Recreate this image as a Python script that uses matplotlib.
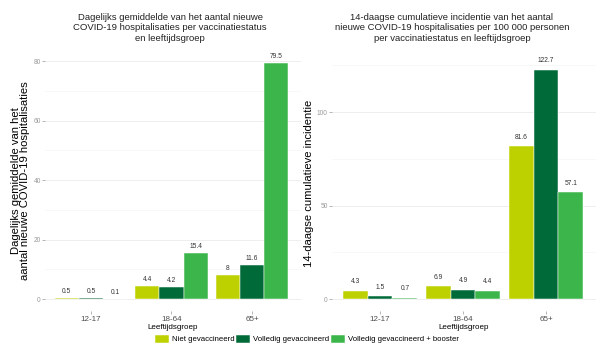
import matplotlib
matplotlib.use('Agg')
import matplotlib.pyplot as plt
import numpy as np

plt.rcParams['font.family'] = ['Liberation Sans', 'DejaVu Sans']

groups = ['12-17', '18-64', '65+']
series = ['Niet gevaccineerd', 'Volledig gevaccineerd', 'Volledig gevaccineerd + booster']
colors = ['#bdd000', '#006b38', '#3cb54a']

# daily average hospitalisations
daily_niet = [0.5, 4.4, 8]
daily_volledig = [0.5, 4.2, 11.6]
daily_booster = [0.1, 15.4, 79.5]

# 14-day cumulative incidence per 100 000
inc_niet = [4.3, 6.9, 81.6]
inc_volledig = [1.5, 4.9, 122.7]
inc_booster = [0.7, 4.4, 57.1]

fig = plt.figure(figsize=(6.02, 3.48), dpi=100)
ax1 = fig.add_axes([45/602, 1-311/348, 256/602, 260/348])
ax2 = fig.add_axes([332/602, 1-311/348, 264/602, 256/348])

def draw(ax, data, xlim, ylim, major, minor, label_pad, ylabel, label_x):
    x = np.arange(len(groups))
    w = 0.3
    for i, vals in enumerate(data):
        pos = x + (i - 1) * w
        ax.bar(pos, vals, width=w, color=colors[i], edgecolor='white',
               linewidth=0.35, label=series[i], zorder=3)
        for p, v in zip(pos, vals):
            ax.text(p, v + label_pad, '%g' % v, ha='center', va='bottom',
                    fontsize=4.8, color='#333333', zorder=4)
    ax.set_xlim(*xlim)
    ax.set_ylim(*ylim)
    ax.set_xticks(x)
    ax.set_xticklabels(groups, fontsize=5.8, color='#4d4d4d')
    ax.set_yticks(major)
    ax.set_yticks(minor, minor=True)
    ax.tick_params(axis='y', which='major', labelsize=4.8, labelcolor='#999999',
                   length=2, width=0.5, color='#999999', pad=1)
    ax.tick_params(axis='y', which='minor', length=0)
    ax.tick_params(axis='x', length=2, width=0.5, color='#999999', pad=1.5)
    ax.grid(axis='y', which='major', color='#ebebeb', linewidth=0.6, zorder=0)
    ax.grid(axis='y', which='minor', color='#f5f5f5', linewidth=0.5, zorder=0)
    for s in ax.spines.values():
        s.set_visible(False)
    ax.set_xlabel('Leeftijdsgroep', fontsize=5.8, labelpad=0.5)
    ax.set_ylabel(ylabel, fontsize=8.1, linespacing=0.92)
    ax.yaxis.set_label_coords(label_x, 0.5)

draw(ax1, [daily_niet, daily_volledig, daily_booster], (-0.571, 2.609),
     (-4.03, 83.4), [0, 20, 40, 60, 80], [10, 30, 50, 70], 1.0,
     'Dagelijks gemiddelde van het\naantal nieuwe COVID-19 hospitalisaties',
     (30 - 45) / 256)
draw(ax2, [inc_niet, inc_volledig, inc_booster], (-0.578, 2.602),
     (-6.4, 130.5), [0, 50, 100], [25, 75, 125], 3.0,
     '14-daagse cumulatieve incidentie', (314 - 332) / 264)

fig.text(170/602, 1-13/348, 'Dagelijks gemiddelde van het aantal nieuwe\n'
         'COVID-19 hospitalisaties per vaccinatiestatus\nen leeftijdsgroep',
         ha='center', va='top', fontsize=6.8, linespacing=1.2, color='#222222')
fig.text(452/602, 1-13/348, '14-daagse cumulatieve incidentie van het aantal\n'
         'nieuwe COVID-19 hospitalisaties per 100 000 personen\n'
         'per vaccinatiestatus en leeftijdsgroep',
         ha='center', va='top', fontsize=6.8, linespacing=1.2, color='#222222')

handles, labels = ax1.get_legend_handles_labels()
fig.legend(handles, labels, loc='center', bbox_to_anchor=(307/602, 1-339/348),
           ncol=3, frameon=False, fontsize=5.6, handlelength=1.8,
           handleheight=1.3, handletextpad=0.4, columnspacing=0.2,
           borderpad=0)

fig.savefig('out.png', dpi=100)
